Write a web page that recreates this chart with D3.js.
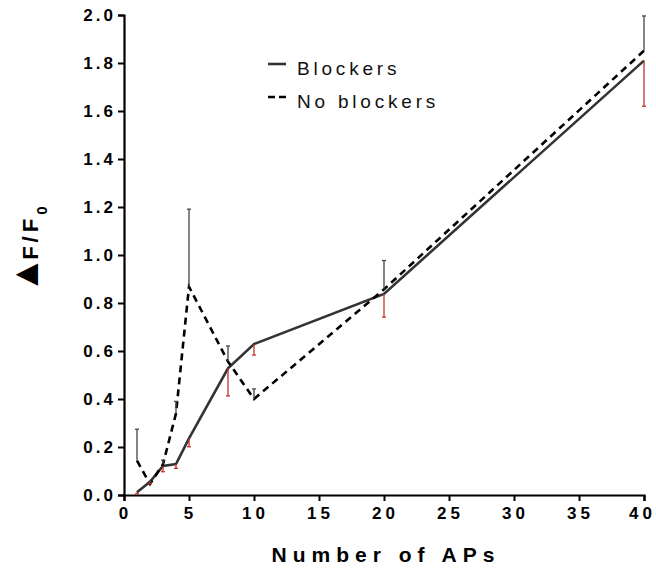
<!DOCTYPE html>
<html>
<head>
<meta charset="utf-8">
<script src="https://cdn.jsdelivr.net/npm/d3@7"></script>
<style>
  html, body { margin: 0; padding: 0; background: #fff; }
  svg text { font-family: "Liberation Sans", Arial, sans-serif; }
</style>
</head>
<body>
<svg id="chart" width="656" height="569"></svg>
<script>
// Number of action potentials in each train
const aps = [1, 2, 3, 4, 5, 8, 10, 20, 40];

// Mean ΔF/F0 and SEM with blockers
const blockersMean = [0.011, 0.055, 0.121, 0.129, 0.236, 0.528, 0.629, 0.838, 1.81];
const blockersErr  = [0.006, 0.008, 0.024, 0.018, 0.035, 0.115, 0.046, 0.097, 0.19];

// Mean ΔF/F0 and SEM without blockers
const noBlockersMean = [0.143, 0.046, 0.128, 0.34, 0.868, 0.556, 0.40, 0.857, 1.851];
const noBlockersErr  = [0.131, 0.01, 0.017, 0.05, 0.323, 0.065, 0.042, 0.12, 0.145];

const xTicks = [0, 5, 10, 15, 20, 25, 30, 35, 40];
const yTicks = [0, 0.2, 0.4, 0.6, 0.8, 1.0, 1.2, 1.4, 1.6, 1.8, 2.0];

const svg = d3.select("#chart");
const x = d3.scaleLinear().domain([0, 40]).range([124, 644]);
const y = d3.scaleLinear().domain([0, 2]).range([495, 15]);

// Axes
const yAxis = svg.append("g")
  .attr("transform", `translate(${x(0)},0)`)
  .call(d3.axisLeft(y).tickValues(yTicks).tickFormat(d3.format(".1f")).tickSize(6).tickPadding(2));
const xAxis = svg.append("g")
  .attr("transform", `translate(0,${y(0)})`)
  .call(d3.axisBottom(x).tickValues(xTicks).tickFormat(d3.format("d")).tickSize(6).tickPadding(6));

[yAxis, xAxis].forEach(g => {
  g.select(".domain").attr("stroke", "#000").attr("stroke-width", 2.2);
  g.selectAll(".tick line").attr("stroke", "#000").attr("stroke-width", 2);
  g.selectAll(".tick text")
    .attr("fill", "#000")
    .style("font-size", "17px")
    .style("font-weight", "bold");
});
yAxis.selectAll(".tick text").style("letter-spacing", "3px");
xAxis.selectAll(".tick text")
  .style("letter-spacing", "4px")
  .attr("dx", d => d === 40 ? "-2px" : "1px");

// Series lines
const line = d3.line().x(d => x(d[0])).y(d => y(d[1]));
const blockersPts = aps.map((a, i) => [a, blockersMean[i]]);
const noBlockersPts = aps.map((a, i) => [a, noBlockersMean[i]]);

svg.append("path")
  .datum(blockersPts)
  .attr("d", line)
  .attr("fill", "none")
  .attr("stroke", "#333")
  .attr("stroke-width", 2.6);

svg.append("path")
  .datum(noBlockersPts)
  .attr("d", line)
  .attr("fill", "none")
  .attr("stroke", "#000")
  .attr("stroke-width", 2.6)
  .attr("stroke-dasharray", "7,5");

// Error bars: no blockers upward (dark), blockers downward (red)
function errorBars(means, errs, dir, color) {
  const g = svg.append("g").attr("stroke", color).attr("stroke-width", 1.3);
  aps.forEach((a, i) => {
    const y0 = y(means[i]);
    const y1 = y(means[i] + dir * errs[i]);
    g.append("line").attr("x1", x(a)).attr("x2", x(a)).attr("y1", y0).attr("y2", y1);
    g.append("line").attr("x1", x(a) - 2).attr("x2", x(a) + 2).attr("y1", y1).attr("y2", y1);
  });
}
errorBars(noBlockersMean, noBlockersErr, 1, "#444");
errorBars(blockersMean, blockersErr, -1, "#c8302c");

// Legend
const legend = svg.append("g");
legend.append("line")
  .attr("x1", 268).attr("x2", 286).attr("y1", 64).attr("y2", 64)
  .attr("stroke", "#333").attr("stroke-width", 2.6);
legend.append("line")
  .attr("x1", 268).attr("x2", 286).attr("y1", 97).attr("y2", 97)
  .attr("stroke", "#000").attr("stroke-width", 2.6).attr("stroke-dasharray", "7,4");
legend.append("text").attr("x", 297).attr("y", 75).text("Blockers")
  .style("font-size", "19px").style("letter-spacing", "3.8px").attr("fill", "#111");
legend.append("text").attr("x", 297).attr("y", 108).text("No blockers")
  .style("font-size", "19px").style("letter-spacing", "3.8px").attr("fill", "#111");

// Axis titles
svg.append("text")
  .attr("x", 386).attr("y", 562)
  .attr("text-anchor", "middle")
  .style("font-size", "21px").style("font-weight", "bold").style("letter-spacing", "6px")
  .text("Number of APs");

const yTitle = svg.append("text")
  .attr("transform", "translate(38,250) rotate(-90)")
  .attr("text-anchor", "middle")
  .style("font-weight", "bold");
yTitle.append("tspan").style("font-size", "38px").text("▲");
yTitle.append("tspan").attr("dx", "-4").style("font-size", "22px").style("letter-spacing", "4px").text("F/F");
yTitle.append("tspan").attr("baseline-shift", "sub").style("font-size", "15px").text("0");
</script>
</body>
</html>
